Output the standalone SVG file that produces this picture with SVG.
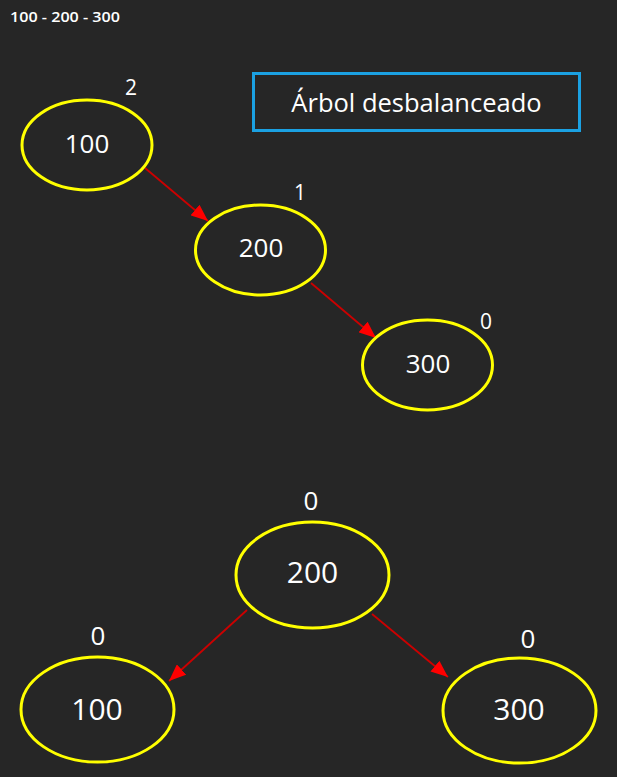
<svg xmlns="http://www.w3.org/2000/svg" width="617" height="777" viewBox="0 0 617 777">
  <defs>
    <marker id="arrow" viewBox="0 0 17 14" refX="17" refY="7" markerWidth="17" markerHeight="14" markerUnits="userSpaceOnUse" orient="auto">
      <path d="M0,0 L17,7 L0,14 z" fill="#ff0000"/>
    </marker>
    <style>
      .node { fill: none; stroke: #ffff00; stroke-width: 3; }
      .lbl { fill: #ffffff; font-family: "Open Sans", "Noto Sans", sans-serif; text-anchor: middle; }
      .edge { stroke: #cc0000; stroke-width: 1.8; fill: none; marker-end: url(#arrow); }
    </style>
  </defs>
  <rect x="0" y="0" width="617" height="777" fill="#262626"/>

  <text x="10" y="22" fill="#ffffff" font-family="'Open Sans', 'Noto Sans', sans-serif" font-size="14.5" font-weight="600" textLength="110" lengthAdjust="spacingAndGlyphs">100 - 200 - 300</text>

  <g id="title">
    <rect x="253.5" y="73.5" width="326" height="57" fill="none" stroke="#1ba1e2" stroke-width="3"/>
    <text class="lbl" x="416.5" y="112" font-size="25.5">Árbol desbalanceado</text>
  </g>

  <g id="connectors">
    <line class="edge" x1="145" y1="168" x2="208" y2="221"/>
    <line class="edge" x1="311" y1="283" x2="376" y2="338"/>
    <line class="edge" x1="247" y1="610" x2="169" y2="681"/>
    <line class="edge" x1="372" y1="614" x2="448" y2="677"/>
  </g>

  <g id="u100">
    <ellipse class="node" cx="87" cy="145" rx="65" ry="45"/>
    <text class="lbl" x="87" y="153" font-size="26">100</text>
    <text class="lbl" x="131" y="95" font-size="21">2</text>
  </g>
  <g id="u200">
    <ellipse class="node" cx="260.5" cy="250" rx="65" ry="45"/>
    <text class="lbl" x="261" y="257" font-size="26">200</text>
    <text class="lbl" x="300" y="200" font-size="21">1</text>
  </g>
  <g id="u300">
    <ellipse class="node" cx="427.5" cy="365" rx="65" ry="45"/>
    <text class="lbl" x="428" y="373" font-size="26">300</text>
    <text class="lbl" x="486" y="329" font-size="21">0</text>
  </g>

  <g id="b200">
    <ellipse class="node" cx="312.5" cy="575" rx="76.5" ry="53"/>
    <text class="lbl" x="312.5" y="583" font-size="30">200</text>
    <text class="lbl" x="311" y="510" font-size="26">0</text>
  </g>
  <g id="b100">
    <ellipse class="node" cx="97.5" cy="709.5" rx="76.5" ry="52.5"/>
    <text class="lbl" x="97" y="720" font-size="30">100</text>
    <text class="lbl" x="98" y="645" font-size="26">0</text>
  </g>
  <g id="b300">
    <ellipse class="node" cx="519.5" cy="710.5" rx="76.5" ry="52.5"/>
    <text class="lbl" x="519" y="720" font-size="30">300</text>
    <text class="lbl" x="528" y="648" font-size="26">0</text>
  </g>
</svg>
